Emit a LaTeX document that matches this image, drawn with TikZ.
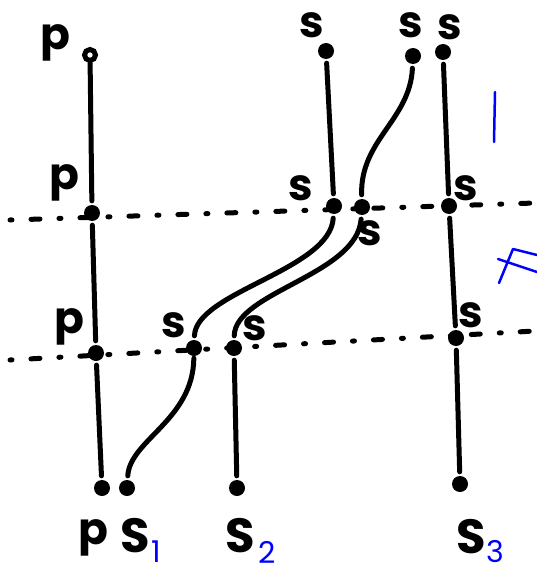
\documentclass[tikz,border=0pt]{standalone}
\usepackage{fontspec}
\setmainfont{Poppins}
\newfontfamily\hand{Poppins}
\begin{document}
\begin{tikzpicture}[x=1pt,y=-1pt,
  dotn/.style={circle,fill=black,inner sep=0pt,minimum size=16pt},
  ringn/.style={circle,draw=black,fill=white,line width=5pt,inner sep=0pt,minimum size=11pt},
  wire/.style={line width=5pt,line cap=round,shorten <=4pt,shorten >=4pt},
  cut/.style={line width=5pt,line cap=round,dash pattern=on 2pt off 19pt on 9pt off 19pt},
  lbl/.style={inner sep=0pt,font=\hand\bfseries\fontsize{44}{44}\selectfont},
  big/.style={inner sep=0pt,font=\hand\bfseries\fontsize{48}{48}\selectfont},
  sub/.style={inner sep=0pt,text=blue,font=\hand\fontsize{30}{30}\selectfont},
  bluemark/.style={draw=blue,line width=2.5pt,line cap=round,line join=round}]
\useasboundingbox (0,0) rectangle (537,575);
% dashed cuts
\coordinate (L1a) at (10,220); \coordinate (L1b) at (535,203);
\coordinate (L2a) at (10,360); \coordinate (L2b) at (535,331);
\draw[cut] (L1a) -- (L1b);
\draw[cut] (L2a) -- (L2b);
% dots
\node[ringn] (p0) at (90,55) {};
\node[dotn] (p1) at (92,213) {};
\node[dotn] (p2) at (96,353) {};
\node[dotn] (p3) at (102,488) {};
\node[dotn] (t1) at (326,51) {};
\node[dotn] (t2) at (413,56) {};
\node[dotn] (t3) at (443,52) {};
\node[dotn] (a1) at (334,206) {};
\node[dotn] (a2) at (362,207) {};
\node[dotn] (c1) at (449,206) {};
\node[dotn] (b1) at (194,348) {};
\node[dotn] (b2) at (234,348) {};
\node[dotn] (c2) at (456,338) {};
\node[dotn] (e1) at (127,488) {};
\node[dotn] (e2) at (237,488) {};
\node[dotn] (c3) at (460,484) {};
% wires
\draw[wire,shorten <=0pt] (p0) -- (p1);
\draw[wire] (p1) -- (p2);
\draw[wire] (p2) -- (p3);
\draw[wire] (t1) -- (a1);
\draw[wire] (t2) .. controls (410,120) and (360,140) .. (a2);
\draw[wire] (a1) .. controls (330,270) and (196,292) .. (b1);
\draw[wire] (a2) .. controls (357,275) and (235,292) .. (b2);
\draw[wire,shorten <=2pt] (b1) .. controls (193,420) and (130,440) .. (e1);
\draw[wire] (b2) -- (e2);
\draw[wire] (t3) -- (c1);
\draw[wire] (c1) -- (c2);
\draw[wire] (c2) -- (c3);
% labels
\node[lbl] (lp0) at (55,43) {p};
\node[lbl] (lp1) at (64,183) {p};
\node[lbl] (lp2) at (69,327) {p};
\node[lbl] (ls1) at (312,25) {s};
\node[lbl] (ls2) at (411,25) {s};
\node[lbl] (ls3) at (450,27) {s};
\node[lbl] (la1) at (301,188) {s};
\node[lbl] (la2) at (370,233) {s};
\node[lbl] (lc1) at (466,188) {s};
\node[lbl] (lb1) at (174,325) {s};
\node[lbl] (lb2) at (255,328) {s};
\node[lbl] (lc2) at (471,315) {s};
\node[lbl] (lp3) at (93,538) {p};
\node[big] (S1) at (135,536) {S};
\node[big] (S2) at (240,536) {S};
\node[big] (S3) at (471,537) {S};
\node[sub] (n1) at (156,552) {1};
\node[sub] (n2) at (267,552) {2};
\node[sub] (n3) at (495,552) {3};
% blue marks
\coordinate (m1) at (495,92); \coordinate (m2) at (494,142);
\draw[bluemark] (m1) -- (m2);
\coordinate (f1) at (499,283); \coordinate (f2) at (513,249); \coordinate (f3) at (537,255);
\coordinate (f4) at (498,259); \coordinate (f5) at (537,272);
\draw[bluemark] (f1) -- (f2) -- (f3);
\draw[bluemark] (f4) -- (f5);
\end{tikzpicture}
\end{document}
